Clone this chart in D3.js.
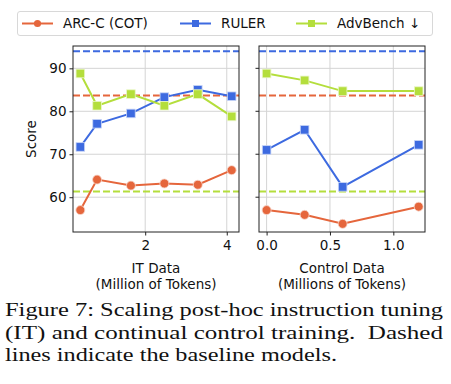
<!DOCTYPE html>
<html>
<head>
<meta charset="utf-8">
<script src="https://cdn.jsdelivr.net/npm/d3@7"></script>
<style>
  body { margin: 0; background: #fff; }
  svg { display: block; }
</style>
</head>
<body>
<div id="plot"></div>
<script>
// data
var itX = [0.41, 0.82, 1.65, 2.47, 3.29, 4.12];
var itArc = [57.0, 64.1, 62.7, 63.2, 62.9, 66.3];
var itRuler = [71.7, 77.1, 79.5, 83.3, 85.0, 83.5];
var itAdv = [88.8, 81.3, 84.0, 81.3, 84.0, 78.8];

var ctrlX = [0.0, 0.3, 0.6, 1.2];
var ctrlArc = [57.0, 55.9, 53.8, 57.8];
var ctrlRuler = [71.0, 75.7, 62.4, 72.2];
var ctrlAdv = [88.8, 87.2, 84.7, 84.7];

var baseArc = 83.7, baseRuler = 94.0, baseAdv = 61.3;

var yTicks = [60, 70, 80, 90];
var itTicks = [2, 4];
var ctrlTicks = [0.0, 0.5, 1.0];

var seriesNames = ["ARC-C (COT)", "RULER", "AdvBench \u2193"];
var colors = ["#e5663c", "#3d6ae0", "#b4de3c"];
var shapes = ["circle", "square", "square"];

var width = 451, height = 384;
var svg = d3.select("#plot").append("svg")
    .attr("width", width)
    .attr("height", height);

var plotTop = 46, plotBottom = 232;
var yScale = d3.scaleLinear().domain([51.9, 95.2]).range([plotBottom, plotTop]);

var panels = [
  {x0: 73, x1: 239, domain: [0.23, 4.3], xs: itX, ticks: itTicks, fmt: d3.format("d"),
   series: [itArc, itRuler, itAdv], label: ["IT Data", "(Million of Tokens)"], yAxis: true},
  {x0: 259, x1: 425, domain: [-0.06, 1.25], xs: ctrlX, ticks: ctrlTicks, fmt: d3.format(".1f"),
   series: [ctrlArc, ctrlRuler, ctrlAdv], label: ["Control Data", "(Millions of Tokens)"], yAxis: false}
];
var baselines = [baseArc, baseRuler, baseAdv];

var font = "DejaVu Sans";
var fs = 13.5;

panels.forEach(function(p) {
  var xScale = d3.scaleLinear().domain(p.domain).range([p.x0, p.x1]);
  var g = svg.append("g");

  // grid
  g.selectAll(".hgrid").data(yTicks).enter().append("line")
    .attr("x1", p.x0).attr("x2", p.x1)
    .attr("y1", d => yScale(d)).attr("y2", d => yScale(d))
    .attr("stroke", "#d4d4d4").attr("stroke-width", 1);
  g.selectAll(".vgrid").data(p.ticks).enter().append("line")
    .attr("x1", d => xScale(d)).attr("x2", d => xScale(d))
    .attr("y1", plotTop).attr("y2", plotBottom)
    .attr("stroke", "#d4d4d4").attr("stroke-width", 1);

  // baselines
  baselines.forEach(function(b, i) {
    g.append("line")
      .attr("x1", p.x0).attr("x2", p.x1)
      .attr("y1", yScale(b)).attr("y2", yScale(b))
      .attr("stroke", colors[i]).attr("stroke-width", 2)
      .attr("stroke-dasharray", "7,3");
  });

  var line = d3.line().x((d, i) => xScale(p.xs[i])).y(d => yScale(d));

  p.series.forEach(function(vals, si) {
    g.append("path")
      .attr("d", line(vals))
      .attr("fill", "none")
      .attr("stroke", colors[si])
      .attr("stroke-width", 2);
    if (shapes[si] == "circle") {
      g.selectAll(null).data(vals).enter().append("circle")
        .attr("cx", (d, i) => xScale(p.xs[i]))
        .attr("cy", d => yScale(d))
        .attr("r", 4.5)
        .attr("fill", colors[si])
        .attr("stroke", "#f7d9cf").attr("stroke-width", 0.8);
    } else {
      g.selectAll(null).data(vals).enter().append("rect")
        .attr("x", (d, i) => xScale(p.xs[i]) - 4.3)
        .attr("y", d => yScale(d) - 4.3)
        .attr("width", 8.6).attr("height", 8.6)
        .attr("fill", colors[si])
        .attr("stroke", si == 1 ? "#c9d6f7" : "#eaf6c8").attr("stroke-width", 0.8);
    }
  });

  // frame
  g.append("rect")
    .attr("x", p.x0).attr("y", plotTop)
    .attr("width", p.x1 - p.x0).attr("height", plotBottom - plotTop)
    .attr("fill", "none").attr("stroke", "#222").attr("stroke-width", 1);

  // x axis
  var xAxis = d3.axisBottom(xScale).tickValues(p.ticks).tickFormat(p.fmt).tickSize(3.5).tickSizeOuter(0);
  var gx = g.append("g").attr("transform", "translate(0," + plotBottom + ")").call(xAxis);
  gx.select(".domain").remove();
  gx.selectAll("text").attr("font-family", font).attr("font-size", fs).attr("fill", "#111").attr("dy", "0.85em");
  gx.selectAll("line").attr("stroke", "#222");

  if (p.yAxis) {
    var yAxis = d3.axisLeft(yScale).tickValues(yTicks).tickSize(3.5);
    var gy = g.append("g").attr("transform", "translate(" + p.x0 + ",0)").call(yAxis);
    gy.select(".domain").remove();
    gy.selectAll("text").attr("font-family", font).attr("font-size", fs).attr("fill", "#111");
    gy.selectAll("line").attr("stroke", "#222");
  } else {
    g.selectAll(".ytk").data(yTicks).enter().append("line")
      .attr("x1", p.x0 - 3.5).attr("x2", p.x0)
      .attr("y1", d => yScale(d)).attr("y2", d => yScale(d))
      .attr("stroke", "#222");
  }

  var cx = (p.x0 + p.x1) / 2;
  p.label.forEach(function(t, i) {
    g.append("text")
      .attr("x", cx).attr("y", 273 + i * 15.5)
      .attr("text-anchor", "middle")
      .attr("font-family", font).attr("font-size", fs).attr("fill", "#111")
      .text(t);
  });
});

// y label
svg.append("text")
  .attr("transform", "translate(36," + ((plotTop + plotBottom) / 2) + ") rotate(-90)")
  .attr("text-anchor", "middle")
  .attr("font-family", font).attr("font-size", fs).attr("fill", "#111")
  .text("Score");

// legend
var legend = svg.append("g");
legend.append("rect")
  .attr("x", 17.5).attr("y", 11.5).attr("width", 415).attr("height", 24)
  .attr("rx", 2.5)
  .attr("fill", "#fff").attr("stroke", "#d8d8d8");
var legX = [22, 180, 296];
seriesNames.forEach(function(name, i) {
  var lg = legend.append("g").attr("transform", "translate(" + legX[i] + ",23.5)");
  lg.append("line").attr("x1", 0).attr("x2", 31).attr("stroke", colors[i]).attr("stroke-width", 2);
  if (shapes[i] == "circle")
    lg.append("circle").attr("cx", 15.5).attr("r", 3.6).attr("fill", colors[i]);
  else
    lg.append("rect").attr("x", 12).attr("y", -3.5).attr("width", 7).attr("height", 7).attr("fill", colors[i]);
  lg.append("text")
    .attr("x", 41).attr("y", 4.8)
    .attr("font-family", font).attr("font-size", fs).attr("fill", "#111")
    .text(name);
});

// caption
var caption = [
  "Figure 7: Scaling post-hoc instruction tuning",
  "(IT) and continual control training.  Dashed",
  "lines indicate the baseline models."
];
var capLen = [438, 438, 332];
caption.forEach(function(t, i) {
  svg.append("text")
    .attr("x", 5).attr("y", 316 + i * 22.5)
    .attr("font-family", "Liberation Serif").attr("font-size", 19.5).attr("fill", "#111")
    .attr("xml:space", "preserve")
    .attr("textLength", capLen[i]).attr("lengthAdjust", "spacingAndGlyphs")
    .text(t);
});
</script>
</body>
</html>
